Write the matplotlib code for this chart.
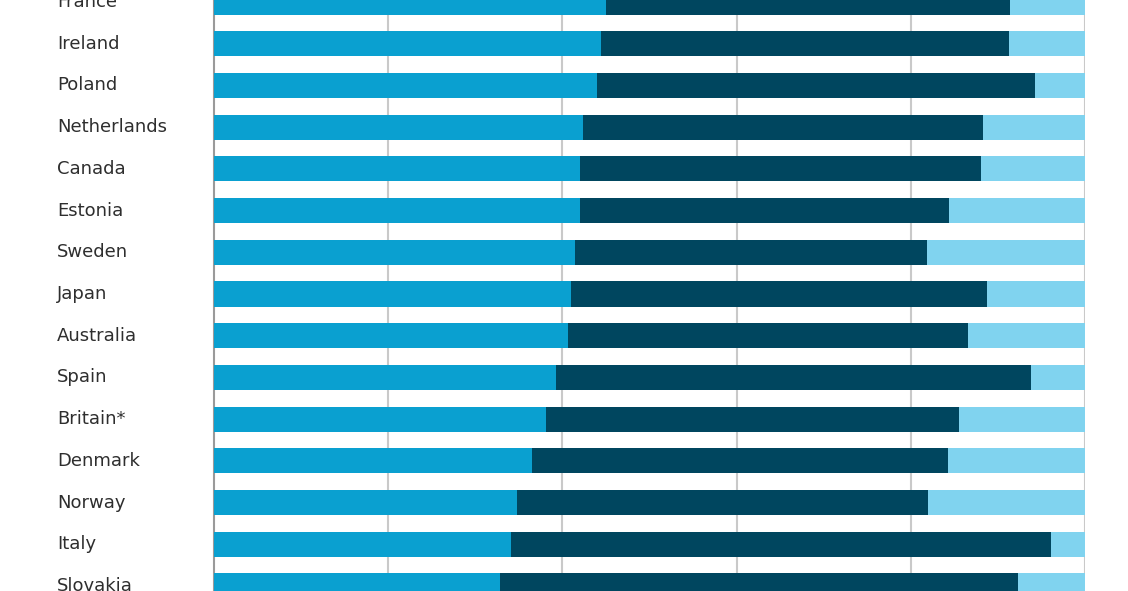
import matplotlib
matplotlib.use("Agg")
import matplotlib.pyplot as plt
import numpy as np

countries = ["France", "Ireland", "Poland", "Netherlands", "Canada", "Estonia",
             "Sweden", "Japan", "Australia", "Spain", "Britain*", "Denmark",
             "Norway", "Italy", "Slovakia"]
first = np.array([45.0, 44.4, 44.0, 42.4, 42.0, 42.0, 41.4, 41.0, 40.6,
                  39.3, 38.1, 36.5, 34.8, 34.1, 32.8])
second = np.array([46.4, 46.9, 50.3, 45.9, 46.1, 42.4, 40.5, 47.7, 46.0,
                   54.5, 47.4, 47.8, 47.2, 62.0, 59.5])
third = 100 - first - second

c1 = "#0aa0d0"
c2 = "#00465f"
c3 = "#80d3ef"

fig = plt.figure(figsize=(11.28, 5.91), dpi=100)
ax = fig.add_axes([214 / 1128, 0, (1085 - 214) / 1128, 1])

y = np.arange(len(countries))
h = 0.6
ax.barh(y, first, height=h, color=c1, zorder=3)
ax.barh(y, second, left=first, height=h, color=c2, zorder=3)
ax.barh(y, third, left=first + second, height=h, color=c3, zorder=3)

ax.set_xlim(0, 100)
ax.set_ylim(14.12, -0.048)
ax.set_xticks([20, 40, 60, 80, 100])
ax.xaxis.grid(True, color="#c9c9c9", linewidth=1.5, zorder=0)
ax.tick_params(axis="x", length=0, labelbottom=False)

ax.set_yticks(y)
ax.set_yticklabels(countries, ha="left", va="center", fontsize=13,
                   color="#2e2e2e")
ax.tick_params(axis="y", length=0, pad=113)

for s in ["top", "right", "bottom"]:
    ax.spines[s].set_visible(False)
ax.spines["left"].set_color("#9a9a9a")
ax.spines["left"].set_linewidth(1.5)

fig.savefig("out.png", dpi=100)
